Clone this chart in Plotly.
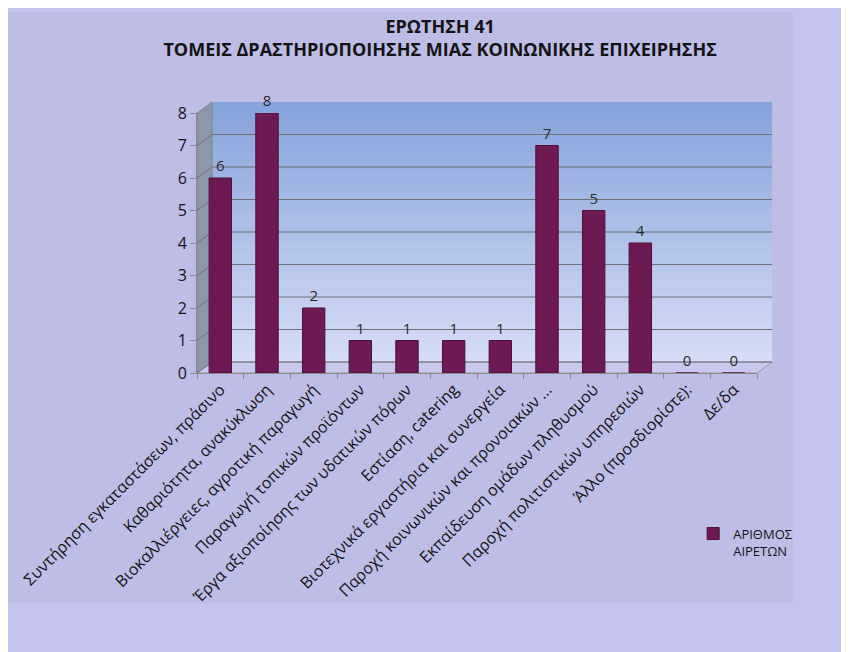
import plotly.graph_objects as go

categories = [
    "Συντήρηση εγκαταστάσεων, πράσινο",
    "Καθαριότητα, ανακύκλωση",
    "Βιοκαλλιέργειες, αγροτική παραγωγή",
    "Παραγωγή τοπικών προϊόντων",
    "Έργα αξιοποίησης των υδατικών πόρων",
    "Εστίαση, catering",
    "Βιοτεχνικά εργαστήρια και συνεργεία",
    "Παροχή κοινωνικών και προνοιακών ...",
    "Εκπαίδευση ομάδων πληθυσμού",
    "Παροχή πολιτιστικών υπηρεσιών",
    "Άλλο (προσδιορίστε):",
    "Δε/δα",
]
values = [6, 8, 2, 1, 1, 1, 1, 7, 5, 4, 0, 0]
series_name = "ΑΡΙΘΜΟΣ<br>ΑΙΡΕΤΩΝ"
title_lines = ["ΕΡΩΤΗΣΗ 41", "ΤΟΜΕΙΣ ΔΡΑΣΤΗΡΙΟΠΟΙΗΣΗΣ ΜΙΑΣ ΚΟΙΝΩΝΙΚΗΣ ΕΠΙΧΕΙΡΗΣΗΣ"]
y_ticks = [0, 1, 2, 3, 4, 5, 6, 7, 8]

FONT = "Open Sans"
BAR = "#6e1a52"

fig = go.Figure()
fig.add_trace(go.Bar(
    x=categories, y=values, name=series_name,
    marker=dict(color=BAR, line=dict(color="#4a0f36", width=1)),
    width=0.48,
    text=[str(v) for v in values], textposition="outside",
    textfont=dict(family=FONT, size=15, color="#2a2a2a"),
    cliponaxis=False,
    showlegend=True,
))

shapes = []
# chart area panel
shapes.append(dict(type="rect", xref="paper", yref="paper", layer="below",
                   x0=-0.3375, x1=1.064, y0=-0.885, y1=1.388,
                   fillcolor="#bdbde6", line=dict(width=0)))
# depth offsets of the 3-D wall (paper units)
dx, dy = 0.027, 0.042
# back wall gradient
n = 26
top = (136, 164, 220)
bot = (214, 220, 246)
for i in range(n):
    t = i / (n - 1)
    c = tuple(int(top[k] + (bot[k] - top[k]) * t) for k in range(3))
    y1 = 1 + dy - i / n
    y0 = 1 + dy - (i + 1) / n
    shapes.append(dict(type="rect", xref="paper", yref="paper", layer="below",
                       x0=dx, x1=1 + dx, y0=y0, y1=y1,
                       fillcolor="rgb(%d,%d,%d)" % c, line=dict(width=0)))
# side wall
shapes.append(dict(type="path", xref="paper", yref="paper", layer="below",
                   path=f"M 0 0 L {dx} {dy} L {dx} {1+dy} L 0 1 Z",
                   fillcolor="#8c97a8", line=dict(color="#7d8796", width=1)))
# floor
shapes.append(dict(type="path", xref="paper", yref="paper", layer="below",
                   path=f"M 0 0 L {dx} {dy} L {1+dx} {dy} L 1 0 Z",
                   fillcolor="#c9c9ee", line=dict(color="#9a9aa8", width=1)))
# gridlines on back wall
for v in y_ticks:
    shapes.append(dict(type="line", xref="paper", yref="y", layer="below",
                       ysizemode="pixel", yanchor=v, y0=11, y1=11,
                       x0=dx, x1=1 + dx, line=dict(color="#6f6f78", width=1.2)))
    shapes.append(dict(type="line", xref="paper", yref="y", layer="below",
                       ysizemode="pixel", yanchor=v, y0=0, y1=11,
                       x0=0, x1=dx, line=dict(color="#6f6f78", width=1)))

fig.update_layout(
    width=849, height=652,
    paper_bgcolor="#c4c4ef",
    plot_bgcolor="rgba(0,0,0,0)",
    margin=dict(l=189, r=100, t=105, b=287),
    shapes=shapes,
    title=dict(
        text="<b>" + title_lines[0] + "<br>" + title_lines[1] + "</b>",
        x=0.509, xanchor="center", y=0.962, yanchor="top",
        font=dict(family=FONT, size=18, color="#141414"),
    ),
    xaxis=dict(
        tickangle=-45, tickfont=dict(family=FONT, size=16, color="#141414"),
        showgrid=False, showline=True, linecolor="#8a8a8a",
        ticks="outside", tickcolor="#8a8a8a", ticklen=5,
        tickson="boundaries", automargin=False,
    ),
    yaxis=dict(
        range=[0, 8], tickvals=y_ticks,
        tickfont=dict(family=FONT, size=16, color="#141414"),
        showgrid=False,
        showline=True, linecolor="#8a8a8a", ticks="outside", tickcolor="#8a8a8a",
        ticklen=6, zeroline=False, automargin=False,
    ),
    legend=dict(
        x=0.886, y=-0.56, xanchor="left", yanchor="top",
        bgcolor="rgba(0,0,0,0)", valign="top", itemwidth=30,
        font=dict(family=FONT, size=13, color="#141414"),
    ),
    bargap=0.5,
)

fig.write_html("out.html")
